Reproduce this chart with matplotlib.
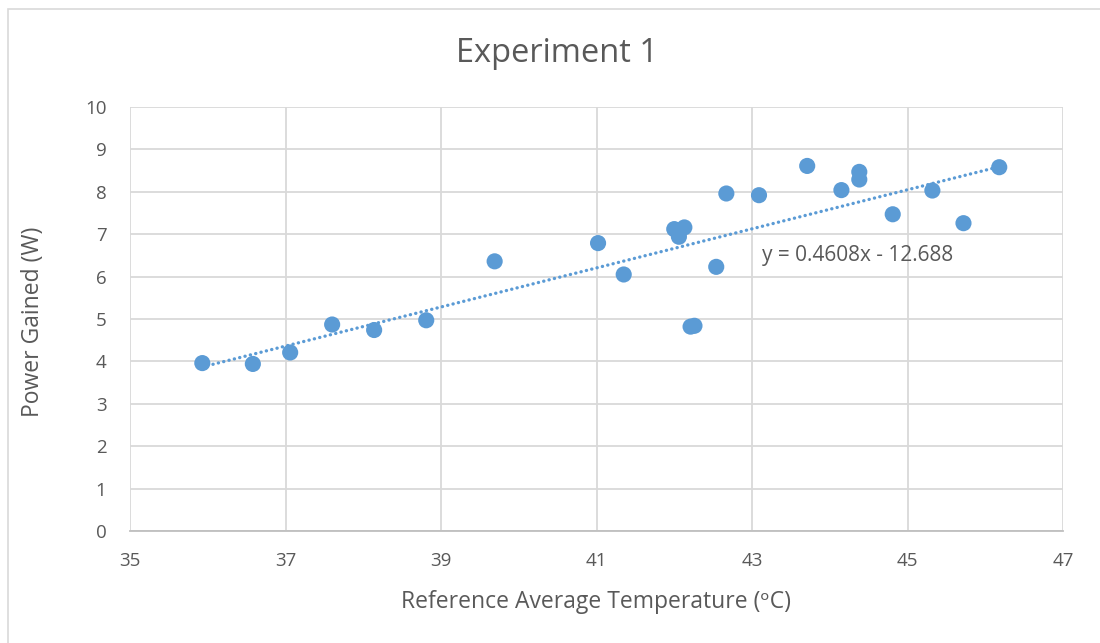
import matplotlib
matplotlib.use("Agg")
import matplotlib.pyplot as plt
from matplotlib.patches import Rectangle
import numpy as np

# Measured data: reference average temperature (°C) vs power gained (W)
temperature = [35.93, 36.58, 37.06, 37.60, 38.14, 38.81, 39.69, 41.02, 41.35,
               42.00, 42.13, 42.06, 42.21, 42.26, 42.54, 42.67, 43.09, 43.71,
               44.15, 44.38, 44.38, 44.81, 45.32, 45.72, 46.18]
power = [3.96, 3.94, 4.21, 4.87, 4.74, 4.97, 6.36, 6.79, 6.05,
         7.12, 7.16, 6.94, 4.82, 4.84, 6.23, 7.96, 7.92, 8.61,
         8.04, 8.47, 8.29, 7.47, 8.03, 7.26, 8.58]

# Linear trendline coefficients
slope = 0.4608
intercept = -12.688

x_ticks = [35, 37, 39, 41, 43, 45, 47]
y_ticks = [0, 1, 2, 3, 4, 5, 6, 7, 8, 9, 10]

FONT = ["Open Sans", "DejaVu Sans"]
TEXT = "#595959"
GRID = "#D9D9D9"
BLUE = "#5B9BD5"

plt.rcParams["font.family"] = FONT

fig = plt.figure(figsize=(11, 6.43), dpi=100)
fig.patch.set_facecolor("white")

# chart frame
fig.patches.append(Rectangle((8 / 1100, -0.1), 1.2, 1 - 9 / 643 + 0.1,
                             transform=fig.transFigure, fill=False,
                             edgecolor="#D9D9D9", linewidth=1.2))

ax = fig.add_axes([130 / 1100, (643 - 531) / 643, (1063 - 130) / 1100, (531 - 107) / 643])
ax.set_xlim(35, 47)
ax.set_ylim(0, 10)
ax.set_xticks(x_ticks)
ax.set_yticks(y_ticks)
ax.set_xticklabels([str(t) for t in x_ticks])
ax.set_yticklabels([str(t) for t in y_ticks])
ax.tick_params(length=0, labelsize=13.5, labelcolor=TEXT)
ax.tick_params(axis="x", pad=15)
ax.tick_params(axis="y", pad=17)
ax.grid(True, color=GRID, linewidth=1.3)
ax.set_axisbelow(True)
for side in ["left", "top", "right"]:
    ax.spines[side].set_visible(False)
ax.spines["bottom"].set_color("#BFBFBF")
ax.spines["bottom"].set_linewidth(1.3)

ax.scatter(temperature, power, s=135, color=BLUE, edgecolors="none", zorder=3)

tx = np.array([min(temperature), max(temperature)])
ax.plot(tx, slope * tx + intercept, color=BLUE, linewidth=2.4,
        linestyle=(0, (0.05, 1.6)), dash_capstyle="round",
        solid_capstyle="round", zorder=4)

ax.text(43.13, 6.49, f"y = {slope}x - {abs(intercept)}", fontsize=15,
        color=TEXT, va="center", ha="left", zorder=5)

fig.text(557 / 1100, 1 - 54 / 643, "Experiment 1", fontsize=23.5, color=TEXT,
         ha="center", va="center")
fig.text(596 / 1100, 1 - 602 / 643, "Reference Average Temperature (ᵒC)",
         fontsize=16.5, color=TEXT, ha="center", va="center")
fig.text(33 / 1100, 1 - 322 / 643, "Power Gained (W)", fontsize=16.5, color=TEXT,
         ha="center", va="center", rotation=90)

fig.savefig("out.png", dpi=100, facecolor="white")
